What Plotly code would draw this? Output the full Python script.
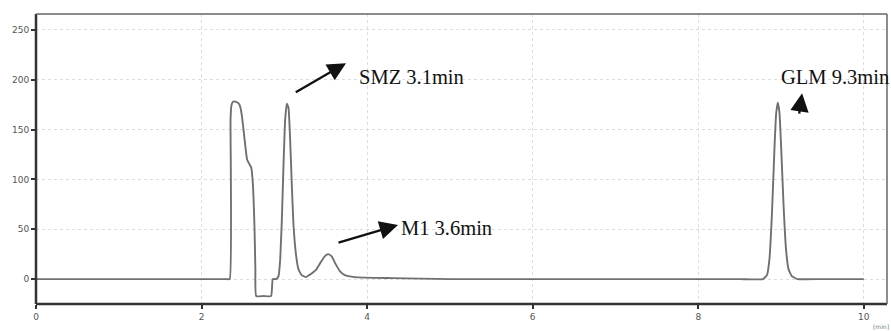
import plotly.graph_objects as go

# Chromatogram (time in min, signal)
time_min = [0.0, 0.5, 1.0, 1.5, 2.0, 2.30, 2.34, 2.35, 2.36, 2.38, 2.41, 2.45, 2.47, 2.49, 2.52, 2.55, 2.58,
            2.60, 2.62, 2.64, 2.65, 2.66, 2.75, 2.84, 2.86, 2.90,
            2.93, 2.95, 2.97, 2.99, 3.01, 3.03, 3.05, 3.07, 3.09, 3.11, 3.14, 3.17, 3.21, 3.26,
            3.30, 3.38, 3.44, 3.49, 3.53, 3.57, 3.62, 3.67, 3.73, 3.85, 4.30, 5.00, 6.0, 7.0, 8.0, 8.5,
            8.78, 8.83, 8.86, 8.89, 8.92, 8.94, 8.96, 8.98, 9.00, 9.03, 9.06, 9.09, 9.13, 9.20, 9.5, 10.0]
signal = [0, 0, 0, 0, 0, 0, 0, 160, 174, 178, 178, 176, 172, 162, 140, 120, 115,
          112, 95, 50, 10, -17, -17, -17, 0, 0,
          3, 20, 60, 115, 160, 176, 172, 140, 95, 55, 25, 10, 4, 2,
          4, 9, 17, 23, 25, 23, 15, 8, 4, 2, 1, 0, 0, 0, 0, 0,
          0, 4, 20, 65, 130, 165, 177, 168, 135, 75, 30, 10, 3, 0, 0, 0]

x_ticks = [0, 2, 4, 6, 8, 10]
y_ticks = [0, 50, 100, 150, 200, 250]

labels = ["SMZ 3.1min", "M1 3.6min", "GLM 9.3min"]
label_pos = [(3.88, 202.7), (4.385, 51.2), (8.976, 202.7)]
arrow_head = [(3.745, 216.7), (4.373, 54.3), (9.254, 186.6)]
arrow_tail = [(3.12, 186.6), (3.636, 36.2), (9.217, 164.6)]

fig = go.Figure()
fig.add_trace(go.Scatter(x=time_min, y=signal, mode="lines",
                         line=dict(color="#707070", width=1.9, shape="spline", smoothing=0.4),
                         hoverinfo="skip"))

axis_common = dict(showgrid=True, gridcolor="#dddddd", griddash="dot", gridwidth=1,
                   zeroline=False, ticks="outside", ticklen=4, tickwidth=2, tickcolor="#333",
                   tickfont=dict(family="DejaVu Sans", size=9, color="#555"),
                   showline=False)
fig.update_xaxes(range=[0, 10.28], tickvals=x_ticks, **axis_common)
fig.update_yaxes(range=[-25, 266], tickvals=y_ticks, **axis_common)

# frame
fig.add_shape(type="line", xref="paper", yref="paper", x0=0, x1=0, y0=0, y1=1,
              line=dict(color="#333", width=2.5))
fig.add_shape(type="line", xref="paper", yref="paper", x0=0, x1=1, y0=0, y1=0,
              line=dict(color="#333", width=2.5))
fig.add_shape(type="line", xref="paper", yref="paper", x0=0, x1=1, y0=1, y1=1,
              line=dict(color="#666", width=1.5))
fig.add_shape(type="line", xref="paper", yref="paper", x0=1, x1=1, y0=0, y1=1,
              line=dict(color="#666", width=1.5))

for lab, (lx, ly), (hx, hy), (tx, ty) in zip(labels, label_pos, arrow_head, arrow_tail):
    fig.add_annotation(x=lx, y=ly, xref="x", yref="y", text=lab, showarrow=False,
                       xanchor="left", yanchor="middle",
                       font=dict(family="Liberation Serif", size=20.5, color="#111"))
    fig.add_annotation(x=hx, y=hy, xref="x", yref="y", ax=tx, ay=ty, axref="x", ayref="y",
                       text="", showarrow=True, arrowhead=2, arrowsize=1.6, arrowwidth=2.3,
                       arrowcolor="#111", standoff=0, startstandoff=0)

fig.add_annotation(x=1.0, y=-0.06, xref="paper", yref="paper", text="[min]", showarrow=False,
                   xanchor="right", yanchor="top", xshift=4,
                   font=dict(family="DejaVu Sans", size=6, color="#777"))

fig.update_layout(width=891, height=331, margin=dict(l=36, r=4, t=14, b=27),
                  plot_bgcolor="white", paper_bgcolor="white", showlegend=False)

fig.write_html("out.html")
